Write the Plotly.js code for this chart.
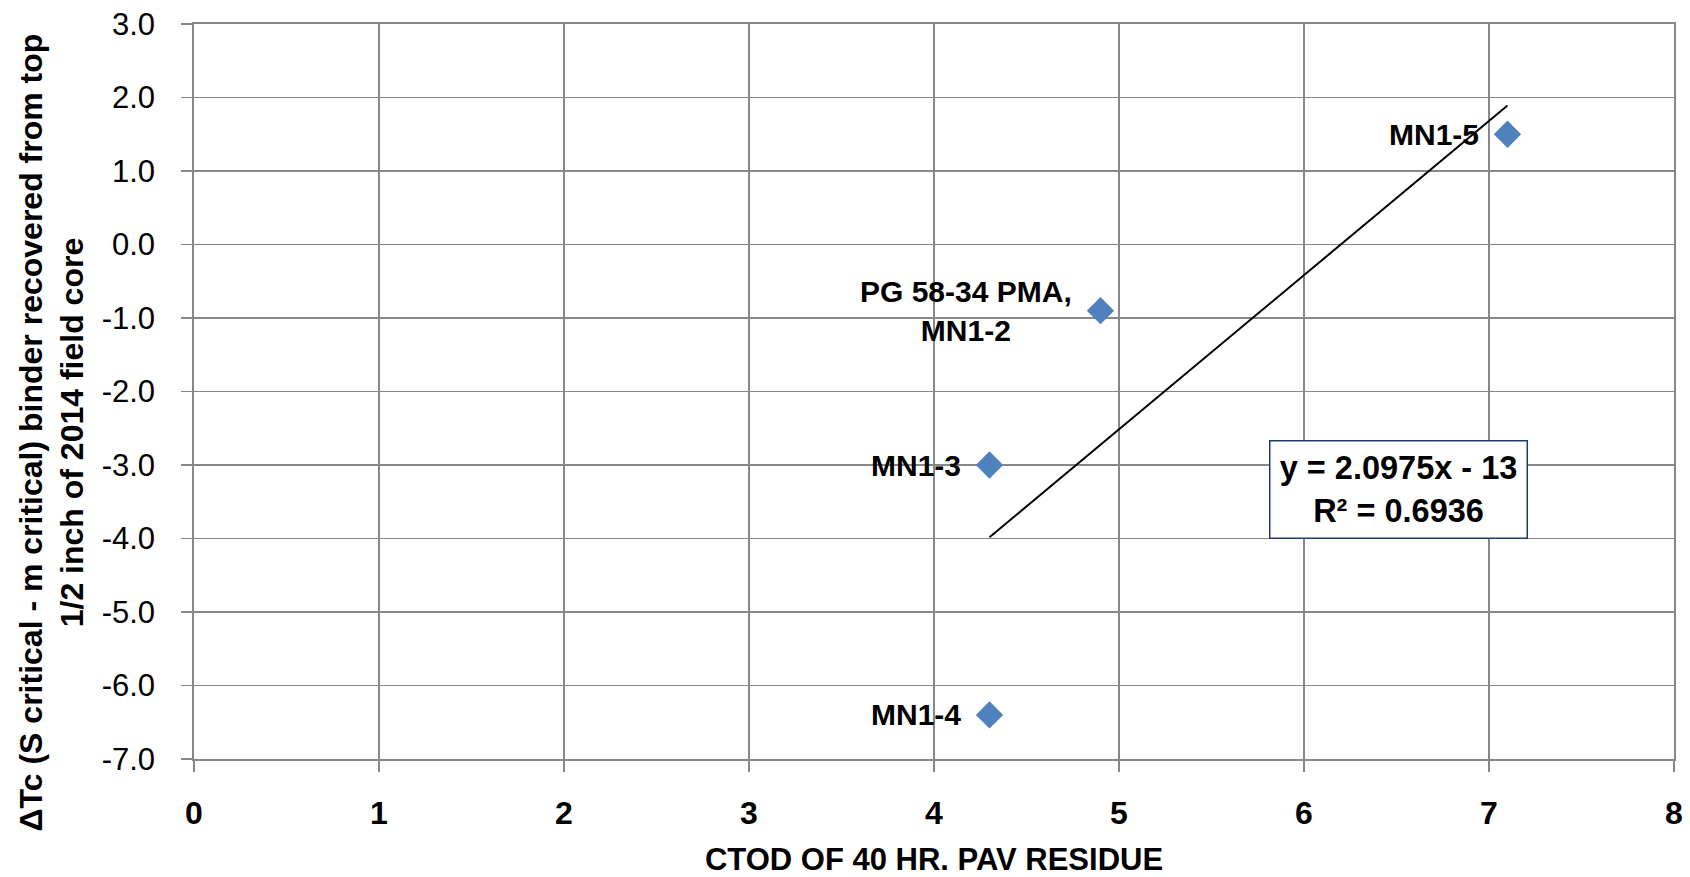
<!DOCTYPE html>
<html>
<head>
<meta charset="utf-8">
<script src="https://cdn.plot.ly/plotly-3.0.1.min.js"></script>
<style>
  html, body { margin: 0; padding: 0; background: #ffffff; }
  #chart { width: 1690px; height: 877px; }
</style>
</head>
<body>
<div id="chart"></div>
<script>
// ---- data ----
const pointLabels = ['MN1-5', 'PG 58-34 PMA,<br>MN1-2', 'MN1-3', 'MN1-4'];
const ctodValues = [7.1, 4.9, 4.3, 4.3];
const deltaTcValues = [1.5, -0.9, -3.0, -6.4];
const xTickValues = [0, 1, 2, 3, 4, 5, 6, 7, 8];
const yTickValues = [3, 2, 1, 0, -1, -2, -3, -4, -5, -6, -7];
const equationText = 'y = 2.0975x - 13<br>R² = 0.6936';
const xAxisTitle = 'CTOD OF 40 HR. PAV RESIDUE';
const yAxisTitle = 'ΔTc (S critical - m critical) binder recovered from top<br>1/2 inch of 2014 field core';

// ---- linear trendline (least squares from the data) ----
const n = ctodValues.length;
const mx = ctodValues.reduce((a, b) => a + b, 0) / n;
const my = deltaTcValues.reduce((a, b) => a + b, 0) / n;
let sxy = 0, sxx = 0;
for (let i = 0; i < n; i++) {
  sxy += (ctodValues[i] - mx) * (deltaTcValues[i] - my);
  sxx += (ctodValues[i] - mx) * (ctodValues[i] - mx);
}
const slope = sxy / sxx;
const intercept = my - slope * mx;
const xMin = Math.min(...ctodValues);
const xMax = Math.max(...ctodValues);
const trendX = [xMin, xMax];
const trendY = trendX.map(x => slope * x + intercept);

const FONT = '"Liberation Sans", Arial, sans-serif';
const GRID = '#888888';

const traces = [
  {
    x: trendX, y: trendY, type: 'scatter', mode: 'lines',
    line: { color: '#000000', width: 2 },
    hoverinfo: 'skip', showlegend: false
  },
  {
    x: ctodValues, y: deltaTcValues, type: 'scatter', mode: 'markers',
    marker: { symbol: 'diamond', size: 21, color: '#4F81BD', line: { width: 0 } },
    showlegend: false
  }
];

const annotations = pointLabels.map((t, i) => ({
  x: ctodValues[i], y: deltaTcValues[i], xref: 'x', yref: 'y',
  text: t, showarrow: false, xanchor: 'right', yanchor: 'middle',
  align: 'center', xshift: -27,
  font: { family: FONT, size: 30, weight: 'bold', color: '#000000' }
}));

annotations.push({
  xref: 'paper', yref: 'paper', x: 0.814, y: 0.366,
  xanchor: 'center', yanchor: 'middle',
  text: equationText, showarrow: false, align: 'center',
  bgcolor: '#ffffff', bordercolor: '#1F3B6E', borderwidth: 1.5, borderpad: 2,
  width: 252, height: 92,
  font: { family: FONT, size: 32.5, weight: 'bold', color: '#000000' }
});

annotations.push({
  xref: 'paper', yref: 'paper', x: -0.0963, y: 0.445,
  xanchor: 'center', yanchor: 'middle', textangle: -90,
  text: yAxisTitle, showarrow: false, align: 'center',
  font: { family: FONT, size: 32, weight: 'bold', color: '#000000' }
});

const layout = {
  width: 1690, height: 877,
  margin: { l: 194, r: 16, t: 24, b: 118 },
  paper_bgcolor: '#ffffff', plot_bgcolor: '#ffffff',
  font: { family: FONT, color: '#000000' },
  showlegend: false,
  xaxis: {
    range: [0, 8], tickvals: xTickValues, ticktext: xTickValues.map(String),
    showgrid: true, gridcolor: GRID, gridwidth: 1.7,
    showline: true, linecolor: GRID, linewidth: 1.7, mirror: true,
    ticks: 'outside', ticklen: 11, tickcolor: GRID, tickwidth: 1.7,
    zeroline: false, ticklabelstandoff: 14,
    tickfont: { family: FONT, size: 32, weight: 'bold', color: '#000000' },
    title: { text: xAxisTitle, standoff: 29,
      font: { family: FONT, size: 31, weight: 'bold', color: '#000000' } }
  },
  yaxis: {
    range: [-7, 3], tickvals: yTickValues, ticktext: yTickValues.map(v => v.toFixed(1)),
    showgrid: true, gridcolor: GRID, gridwidth: 1.7,
    showline: true, linecolor: GRID, linewidth: 1.7, mirror: true,
    ticks: 'outside', ticklen: 11, tickcolor: GRID, tickwidth: 1.7,
    zeroline: false, ticklabelstandoff: 20,
    tickfont: { family: FONT, size: 31, color: '#000000' }
  },
  annotations: annotations
};

Plotly.newPlot('chart', traces, layout, { displayModeBar: false, staticPlot: true });
</script>
</body>
</html>
